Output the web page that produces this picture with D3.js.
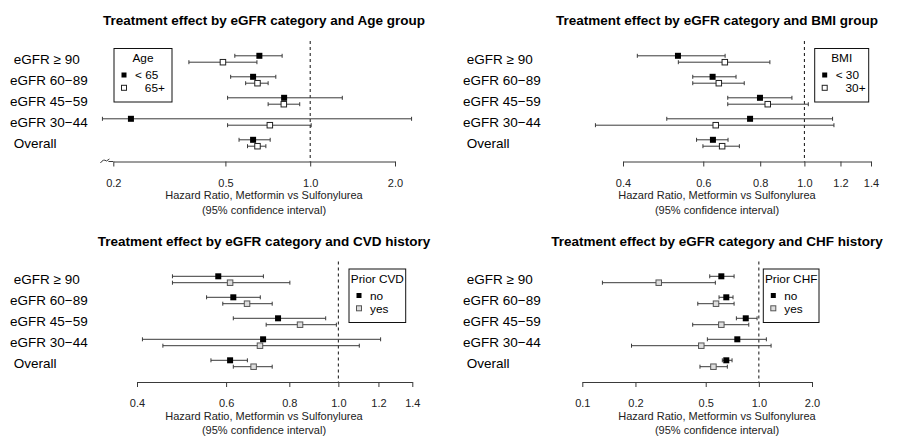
<!DOCTYPE html>
<html>
<head>
<meta charset="utf-8">
<script src="https://cdn.jsdelivr.net/npm/d3@7"></script>
<style>
  body { margin: 0; background: #fff; }
  svg { font-family: "Liberation Sans", Arial, sans-serif; }
</style>
</head>
<body>
<svg id="chart" width="906" height="446"></svg>
<script>
  // row labels (leading spaces as in the original R labels)
  const rowLabels = [" eGFR \u2265 90", "eGFR 60\u221289", "eGFR 45\u221259", "eGFR 30\u221244", " Overall"];

  const titles = [
    "Treatment effect by eGFR category and Age group",
    "Treatment effect by eGFR category and BMI group",
    "Treatment effect by eGFR category and CVD history",
    "Treatment effect by eGFR category and CHF history"
  ];

  // tick labels for each x axis
  const ticksAge = [0.2, 0.5, 1.0, 2.0];
  const ticksBMI = [0.4, 0.6, 0.8, 1.0, 1.2, 1.4];
  const ticksCVD = [0.4, 0.6, 0.8, 1.0, 1.2, 1.4];
  const ticksCHF = [0.1, 0.2, 0.5, 1.0, 2.0];

  // Age group
  const ageGroups = ["< 65", "   65+"];
  const ageHR1 = [0.660, 0.627, 0.808, 0.231, 0.627];
  const ageLo1 = [0.540, 0.522, 0.509, 0.183, 0.559];
  const ageHi1 = [0.795, 0.755, 1.300, 2.290, 0.721];
  const ageHR2 = [0.490, 0.650, 0.806, 0.719, 0.650];
  const ageLo2 = [0.371, 0.590, 0.709, 0.509, 0.599];
  const ageHi2 = [0.647, 0.709, 0.918, 1.008, 0.696];

  // BMI group
  const bmiGroups = ["< 30", "   30+"];
  const bmiHR1 = [0.528, 0.629, 0.799, 0.760, 0.630];
  const bmiLo1 = [0.430, 0.569, 0.679, 0.499, 0.580];
  const bmiHi1 = [0.670, 0.708, 0.939, 1.153, 0.680];
  const bmiHR2 = [0.669, 0.649, 0.831, 0.639, 0.660];
  const bmiLo2 = [0.529, 0.569, 0.679, 0.348, 0.599];
  const bmiHi2 = [0.840, 0.738, 1.020, 1.161, 0.720];

  // Prior CVD
  const cvdGroups = ["no", "yes"];
  const cvdHR1 = [0.579, 0.620, 0.760, 0.710, 0.611];
  const cvdLo1 = [0.470, 0.549, 0.620, 0.410, 0.560];
  const cvdHi1 = [0.711, 0.701, 0.944, 1.212, 0.661];
  const cvdHR2 = [0.611, 0.660, 0.840, 0.700, 0.680];
  const cvdLo2 = [0.470, 0.591, 0.720, 0.450, 0.620];
  const cvdHi2 = [0.802, 0.740, 0.991, 1.100, 0.740];

  // Prior CHF
  const chfGroups = ["no", "yes"];
  const chfHR1 = [0.613, 0.654, 0.843, 0.755, 0.654];
  const chfLo1 = [0.527, 0.595, 0.746, 0.511, 0.621];
  const chfHi1 = [0.724, 0.714, 0.977, 1.103, 0.705];
  const chfHR2 = [0.271, 0.572, 0.613, 0.472, 0.553];
  const chfLo2 = [0.130, 0.451, 0.422, 0.190, 0.464];
  const chfHi2 = [0.567, 0.724, 0.877, 1.173, 0.663];

  //build series rows from the arrays
  function makeSeries(hr, lo, hi) {
    return hr.map(function(d, i) {
      return {row: i, hr: d, lo: lo[i], hi: hi[i]};
    });
  }

  const panels = [
    {title: titles[0], ox: 0, oy: 0, ticks: ticksAge, xr: [113.3, 395],
     legendTitle: "Age", groups: ageGroups, lx: 114, lw: 58, openFill: "#fff", openStroke: "#222",
     brk: 0.183,
     s1: makeSeries(ageHR1, ageLo1, ageHi1), s2: makeSeries(ageHR2, ageLo2, ageHi2)},
    {title: titles[1], ox: 453, oy: 0, ticks: ticksBMI, xr: [170, 418],
     legendTitle: "BMI", groups: bmiGroups, lx: 361.7, lw: 54, openFill: "#fff", openStroke: "#222",
     s1: makeSeries(bmiHR1, bmiLo1, bmiHi1), s2: makeSeries(bmiHR2, bmiLo2, bmiHi2)},
    {title: titles[2], ox: 0, oy: 220.5, ticks: ticksCVD, xr: [137, 412.3],
     legendTitle: "Prior CVD", groups: cvdGroups, lx: 349, lw: 56.7, openFill: "#ddd", openStroke: "#555",
     s1: makeSeries(cvdHR1, cvdLo1, cvdHi1), s2: makeSeries(cvdHR2, cvdLo2, cvdHi2)},
    {title: titles[3], ox: 453, oy: 220.5, ticks: ticksCHF, xr: [129.3, 359],
     legendTitle: "Prior CHF", groups: chfGroups, lx: 310.3, lw: 55.7, openFill: "#ddd", openStroke: "#555",
     s1: makeSeries(chfHR1, chfLo1, chfHi1), s2: makeSeries(chfHR2, chfLo2, chfHi2)}
  ];

  const svg = d3.select("#chart");
  const axisY = 161.5;
  const center = 264;
  const lineColor = "#3a3a3a";

  // row positions shared by every panel
  const yRow = d3.scalePoint().domain(d3.range(rowLabels.length)).range([59, 143]);
  const subOff = 3.2;

  panels.forEach(function(p) {
    const g = svg.append("g").attr("transform", `translate(${p.ox},${p.oy})`);

    const x = d3.scaleLog().domain([p.ticks[0], p.ticks[p.ticks.length - 1]]).range(p.xr);

    //title
    g.append("text")
      .attr("x", center).attr("y", 25)
      .attr("text-anchor", "middle")
      .attr("font-weight", "bold")
      .attr("font-size", 13.5)
      .text(p.title);

    //row labels
    g.selectAll(".rowLabel")
      .data(rowLabels)
      .enter()
      .append("text")
      .attr("class", "rowLabel")
      .attr("xml:space", "preserve")
      .attr("x", 10)
      .attr("y", (d, i) => yRow(i) + 4.8)
      .attr("font-size", 13.5)
      .text(d => d);

    //reference line at HR = 1
    g.append("line")
      .attr("x1", x(1)).attr("x2", x(1))
      .attr("y1", 41).attr("y2", axisY)
      .attr("stroke", "#111")
      .attr("stroke-width", 1)
      .attr("stroke-dasharray", "3,3");

    //x axis
    const ax = g.append("g")
      .attr("transform", `translate(0,${axisY})`)
      .call(d3.axisBottom(x)
        .tickValues(p.ticks)
        .tickFormat(d3.format(".1f"))
        .tickSize(5)
        .tickSizeOuter(0)
        .tickPadding(12.5));
    ax.select(".domain").attr("stroke", lineColor);
    ax.selectAll(".tick line").attr("stroke", lineColor);
    ax.selectAll(".tick text")
      .attr("font-size", 11)
      .attr("font-family", "Liberation Sans, Arial, sans-serif")
      .attr("fill", "#222");

    //axis break below the first tick
    if (p.brk) {
      const bx = x(p.brk);
      g.append("path")
        .attr("d", `M${bx - 2},${axisY + 1.5} Q${bx + 1},${axisY - 3} ${bx + 4},${axisY - 0.5} L${bx + 7},${axisY - 2.5}`)
        .attr("fill", "none")
        .attr("stroke", lineColor);
      g.append("line")
        .attr("x1", bx + 6).attr("x2", x(p.ticks[0]))
        .attr("y1", axisY).attr("y2", axisY)
        .attr("stroke", lineColor);
    }

    //axis title
    g.append("text")
      .attr("x", center).attr("y", 199)
      .attr("text-anchor", "middle")
      .attr("font-size", 11)
      .attr("fill", "#222")
      .text("Hazard Ratio, Metformin vs Sulfonylurea");
    g.append("text")
      .attr("x", center).attr("y", 213.5)
      .attr("text-anchor", "middle")
      .attr("font-size", 11)
      .attr("fill", "#222")
      .text("(95% confidence interval)");

    //draw one series of intervals and squares
    function drawSeries(data, dy, filled) {
      const sg = g.append("g");
      sg.selectAll(".ci")
        .data(data)
        .enter()
        .append("line")
        .attr("x1", d => x(d.lo)).attr("x2", d => x(d.hi))
        .attr("y1", d => yRow(d.row) + dy).attr("y2", d => yRow(d.row) + dy)
        .attr("stroke", lineColor);
      ["lo", "hi"].forEach(function(k) {
        sg.selectAll(".cap" + k)
          .data(data)
          .enter()
          .append("line")
          .attr("x1", d => x(d[k])).attr("x2", d => x(d[k]))
          .attr("y1", d => yRow(d.row) + dy - 2).attr("y2", d => yRow(d.row) + dy + 2)
          .attr("stroke", lineColor);
      });
      const sz = filled ? 6 : 5.5;
      sg.selectAll(".pt")
        .data(data)
        .enter()
        .append("rect")
        .attr("x", d => x(d.hr) - sz / 2)
        .attr("y", d => yRow(d.row) + dy - sz / 2)
        .attr("width", sz).attr("height", sz)
        .attr("fill", filled ? "#000" : p.openFill)
        .attr("stroke", filled ? "none" : p.openStroke)
        .attr("stroke-width", 1);
    }
    drawSeries(p.s1, -subOff, true);
    drawSeries(p.s2, subOff, false);

    //legend
    const ly = 48.5;
    const lg = g.append("g");
    lg.append("rect")
      .attr("x", p.lx).attr("y", ly)
      .attr("width", p.lw).attr("height", 53.5)
      .attr("fill", "#fff")
      .attr("stroke", "#111");
    lg.append("text")
      .attr("x", p.lx + p.lw / 2).attr("y", ly + 13.5)
      .attr("text-anchor", "middle")
      .attr("font-size", 11.8)
      .text(p.legendTitle);
    p.groups.forEach(function(name, i) {
      const ey = ly + 26.5 + i * 12.8;
      lg.append("rect")
        .attr("x", p.lx + 10 - 2.5).attr("y", ey - 2.5)
        .attr("width", 5).attr("height", 5)
        .attr("fill", i === 0 ? "#000" : p.openFill)
        .attr("stroke", i === 0 ? "none" : p.openStroke);
      lg.append("text")
        .attr("xml:space", "preserve")
        .attr("x", p.lx + 21).attr("y", ey + 4.2)
        .attr("font-size", 11.8)
        .text(name);
    });
  });
</script>
</body>
</html>
